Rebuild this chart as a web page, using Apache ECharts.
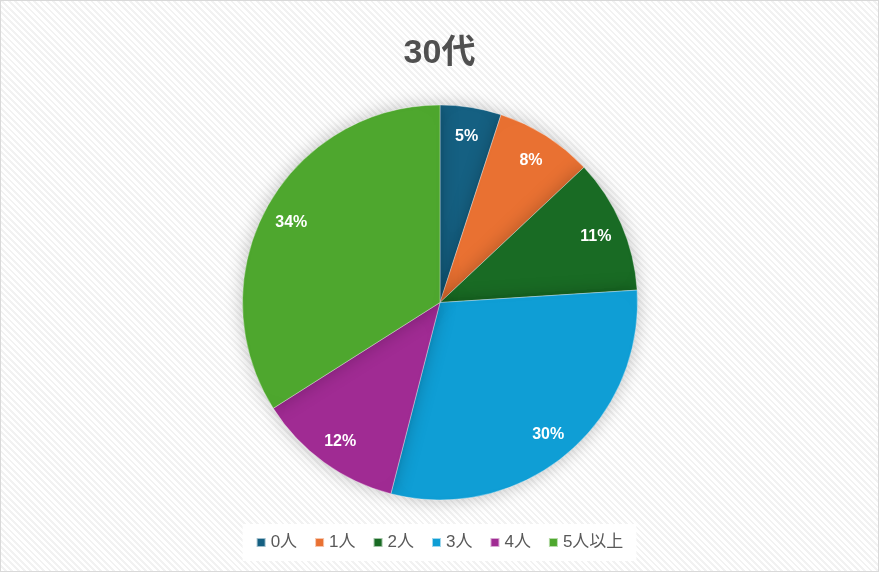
<!DOCTYPE html>
<html>
<head>
<meta charset="utf-8">
<script src="https://cdn.jsdelivr.net/npm/echarts@6/dist/echarts.min.js"></script>
<style>
html,body{margin:0;padding:0;background:#fff;}
#wrap{width:879px;height:572px;box-sizing:border-box;border:1px solid #d9d9d9;
background:repeating-linear-gradient(45deg,#ffffff 0px,#ffffff 2.5px,#f2f2f2 2.5px,#f2f2f2 4.5px);}
#chart{width:877px;height:570px;}
</style>
</head>
<body>
<div id="wrap"><div id="chart"></div></div>
<script>
const title = '30代';
const categories = ['0人', '1人', '2人', '3人', '4人', '5人以上'];
const values = [5, 8, 11, 30, 12, 34];
const colors = ['#156082', '#E97132', '#196B24', '#0F9ED5', '#A02B93', '#4EA72E'];

const data = categories.map((c, i) => ({ name: c, value: values[i] }));
const chart = echarts.init(document.getElementById('chart'));
const fontFamily = '"Liberation Sans", Arial, "Noto Sans CJK JP", sans-serif';
chart.setOption({
  color: colors,
  animation: false,
  title: {
    text: title, left: 'center', top: 31,
    textStyle: { fontSize: 34, fontWeight: 'bold', color: '#505050', fontFamily: fontFamily }
  },
  legend: {
    data: categories, bottom: 10, left: 'center',
    backgroundColor: '#ffffff', padding: [10, 13, 10, 13],
    icon: 'rect', itemWidth: 9, itemHeight: 9, itemGap: 17,
    textStyle: { fontSize: 17, color: '#595959', fontFamily: fontFamily }
  },
  series: [
    {
      type: 'pie', center: [439, 301.5], radius: [0, 197.5], startAngle: 90, clockwise: true,
      data: data, label: { show: false }, labelLine: { show: false },
      itemStyle: { borderColor: 'rgba(255,255,255,0.6)', borderWidth: 0.6,
        shadowBlur: 18, shadowColor: 'rgba(0,0,0,0.25)' },
      emphasis: { disabled: true }
    },
    {
      type: 'pie', center: [439, 303], radius: [136, 197.5], startAngle: 90, clockwise: true,
      data: data, silent: true, legendHoverLink: false,
      itemStyle: { color: 'rgba(0,0,0,0)' },
      label: { show: true, position: 'inside', formatter: '{c}%',
        color: '#ffffff', fontSize: 16, fontWeight: 'bold', fontFamily: fontFamily },
      labelLine: { show: false },
      emphasis: { disabled: true }
    }
  ]
});
</script>
</body>
</html>
